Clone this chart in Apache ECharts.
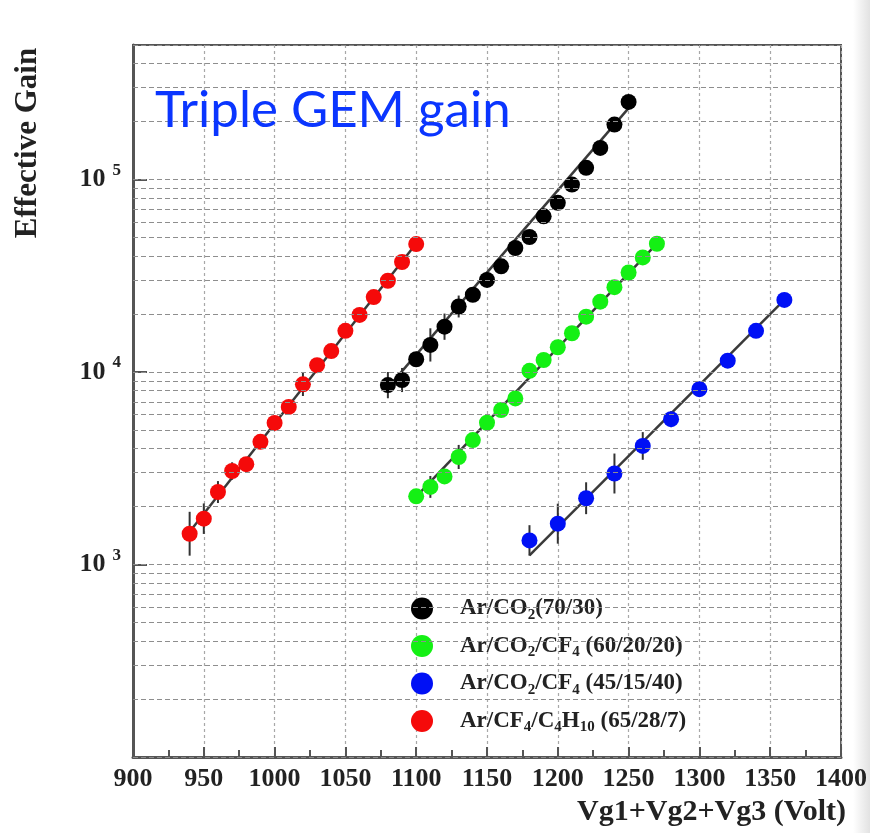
<!DOCTYPE html>
<html>
<head>
<meta charset="utf-8">
<script src="https://cdn.jsdelivr.net/npm/echarts@6/dist/echarts.min.js"></script>
<style>
  html, body { margin: 0; padding: 0; background: #fff; }
  #chart { width: 870px; height: 833px; }
</style>
</head>
<body>
<div id="chart"></div>
<script>
// voltage (x) and effective gain (y)
var redX   = [940, 950, 960, 970, 980, 990, 1000, 1010, 1020, 1030, 1040, 1050, 1060, 1070, 1080, 1090, 1100];
var redY   = [1445, 1730, 2380, 3060, 3320, 4340, 5440, 6590, 8630, 10860, 12850, 16370, 19800, 24500, 29800, 37300, 46200];
var redErr = [0.30, 0.20, 0.14, 0.11, 0.08, 0.06, 0.06, 0.06, 0.15, 0.06, 0.06, 0.05, 0.05, 0.05, 0.05, 0.05, 0.05];

var blackX   = [1080, 1090, 1100, 1110, 1120, 1130, 1140, 1150, 1160, 1170, 1180, 1190, 1200, 1210, 1220, 1230, 1240, 1250];
var blackY   = [8550, 9090, 11650, 13830, 17200, 21900, 25200, 30100, 35400, 44100, 50300, 64400, 75700, 94200, 115000, 146000, 193000, 253000];
var blackErr = [0.17, 0.155, 0.06, 0.22, 0.17, 0.14, 0.06, 0.06, 0.06, 0.06, 0.06, 0.06, 0.06, 0.06, 0.06, 0.06, 0.06, 0.06];

var greenX   = [1100, 1110, 1120, 1130, 1140, 1150, 1160, 1170, 1180, 1190, 1200, 1210, 1220, 1230, 1240, 1250, 1260, 1270];
var greenY   = [2260, 2530, 2870, 3620, 4430, 5450, 6340, 7290, 10150, 11550, 13450, 15900, 19400, 23200, 27600, 32900, 39400, 46400];
var greenErr = [0.06, 0.14, 0.07, 0.155, 0.08, 0.06, 0.06, 0.06, 0.09, 0.06, 0.06, 0.06, 0.06, 0.06, 0.06, 0.06, 0.06, 0.06];

var blueX   = [1180, 1200, 1220, 1240, 1260, 1280, 1300, 1320, 1340, 1360];
var blueY   = [1334, 1630, 2210, 2970, 4130, 5690, 8150, 11450, 16370, 23700];
var blueErr = [0.20, 0.27, 0.21, 0.27, 0.18, 0.10, 0.06, 0.06, 0.06, 0.06];

// exponential fits (straight on log scale): end points
var redFitX   = [940, 1100];   var redFitY   = [1480, 46500];
var blackFitX = [1080, 1250];  var blackFitY = [8300, 235000];
var greenFitX = [1100, 1270];  var greenFitY = [2250, 46400];
var blueFitX  = [1180, 1360];  var blueFitY  = [1115, 23700];

var gasNames = ['Ar/CO2 (70/30)', 'Ar/CO2/CF4 (60/20/20)', 'Ar/CO2/CF4 (45/15/40)', 'Ar/CF4/C4H10 (65/28/7)'];
var gasLabels = [
    'Ar/CO{s|2}(70/30)',
    'Ar/CO{s|2}/CF{s|4} (60/20/20)',
    'Ar/CO{s|2}/CF{s|4} (45/15/40)',
    'Ar/CF{s|4}/C{s|4}H{s|10} (65/28/7)'
];
var gasColors = ['#000000', '#14f014', '#0010f5', '#f50a0a'];

var xTicks = [900, 950, 1000, 1050, 1100, 1150, 1200, 1250, 1300, 1350, 1400];

var serif = '"Liberation Serif", "DejaVu Serif", serif';

function pairs(xs, ys) {
    var out = [];
    for (var i = 0; i < xs.length; i++) out.push([xs[i], ys[i]]);
    return out;
}

function errData(xs, ys, es) {
    var out = [];
    for (var i = 0; i < xs.length; i++) {
        out.push([xs[i], ys[i] / (1 + es[i]), ys[i] * (1 + es[i])]);
    }
    return out;
}

// horizontal log grid lines: 1..9 x each decade
var gridVals = [];
[100, 1000, 10000, 100000].forEach(function (d) {
    for (var k = 1; k <= 9; k++) {
        if (d * k <= 500000) gridVals.push(d * k);
    }
});

function errorSeries(xs, ys, es) {
    return {
        type: 'custom',
        silent: true,
        z: 3,
        data: errData(xs, ys, es),
        renderItem: function (params, api) {
            var lo = api.coord([api.value(0), api.value(1)]);
            var hi = api.coord([api.value(0), api.value(2)]);
            return {
                type: 'line',
                shape: { x1: lo[0], y1: lo[1], x2: hi[0], y2: hi[1] },
                style: { stroke: '#333', lineWidth: 2 }
            };
        }
    };
}

function fitSeries(xs, ys) {
    return {
        type: 'line',
        silent: true,
        z: 2,
        symbol: 'none',
        data: pairs(xs, ys),
        lineStyle: { color: '#3a3a3a', width: 2.5 }
    };
}

function pointSeries(name, xs, ys, color) {
    return {
        name: name,
        type: 'scatter',
        z: 4,
        symbol: 'circle',
        symbolSize: 16,
        data: pairs(xs, ys),
        itemStyle: { color: color, opacity: 1 }
    };
}

const myChart = echarts.init(document.getElementById('chart'));

var option = {
    animation: false,
    backgroundColor: '#ffffff',
    title: {
        text: 'Triple GEM gain',
        left: 150,
        top: 80,
        textStyle: {
            color: '#0a35ff',
            fontSize: 51,
            fontWeight: 'normal',
            fontFamily: 'Lato, "Open Sans", sans-serif'
        }
    },
    grid: {
        left: 133,
        right: 27,
        top: 45,
        bottom: 76,
        show: true,
        borderColor: '#555',
        borderWidth: 2
    },
    legend: {
        data: gasNames,
        orient: 'vertical',
        left: 406,
        top: 592,
        itemWidth: 22,
        itemHeight: 22,
        itemGap: 12,
        icon: 'circle',
        formatter: function (name) {
            return gasLabels[gasNames.indexOf(name)];
        },
        textStyle: {
            fontFamily: serif,
            fontWeight: 'bold',
            fontSize: 23,
            color: '#222',
            padding: [0, 0, 0, 22],
            rich: {
                s: {
                    fontFamily: serif,
                    fontWeight: 'bold',
                    fontSize: 15,
                    color: '#222',
                    padding: [13, 0, 0, 0]
                }
            }
        }
    },
    graphic: [
        {
            type: 'rect',
            shape: { x: 853, y: 0, width: 17, height: 833 },
            style: {
                fill: {
                    type: 'linear', x: 0, y: 0, x2: 1, y2: 0,
                    colorStops: [
                        { offset: 0, color: '#ffffff' },
                        { offset: 1, color: '#e2e2e2' }
                    ]
                }
            },
            silent: true
        },
        {
            type: 'text',
            x: 28,
            y: 143,
            rotation: Math.PI / 2,
            style: {
                text: 'Effective Gain',
                fontFamily: serif,
                fontWeight: 'bold',
                fontSize: 31,
                fill: '#222',
                textAlign: 'center',
                textVerticalAlign: 'middle'
            }
        },
        {
            type: 'text',
            x: 846,
            y: 812,
            style: {
                text: 'Vg1+Vg2+Vg3 (Volt)',
                fontFamily: serif,
                fontWeight: 'bold',
                fontSize: 30,
                fill: '#222',
                textAlign: 'right',
                textVerticalAlign: 'middle'
            }
        }
    ],
    xAxis: {
        type: 'value',
        min: xTicks[0],
        max: xTicks[xTicks.length - 1],
        interval: 50,
        axisLine: { lineStyle: { color: '#555', width: 3 } },
        axisTick: { inside: true, length: 10, lineStyle: { color: '#555', width: 2 } },
        minorTick: { show: true, splitNumber: 2, length: 7, lineStyle: { color: '#555', width: 2 } },
        splitLine: { show: true, lineStyle: { color: '#a8a8a8', type: [3, 3], width: 1.2 } },
        axisLabel: {
            margin: 9,
            formatter: function (v) { return String(v); },
            fontFamily: serif,
            fontWeight: 'bold',
            fontSize: 26,
            color: '#222'
        }
    },
    yAxis: {
        type: 'log',
        logBase: 10,
        min: 100,
        max: 500000,
        axisLine: { lineStyle: { color: '#555', width: 3 } },
        axisTick: { inside: true, length: 14, lineStyle: { color: '#555', width: 2 } },
        splitLine: { show: false },
        axisLabel: {
            margin: 12,
            formatter: function (v) {
                var e = Math.round(Math.log10(v));
                if (Math.abs(Math.log10(v) - e) > 1e-6 || e < 3 || e > 5) return '';
                return '{a|10}{s|' + e + '}';
            },
            rich: {
                a: { fontFamily: serif, fontWeight: 'bold', fontSize: 26, color: '#222' },
                s: { fontFamily: serif, fontWeight: 'bold', fontSize: 17, color: '#222',
                     padding: [0, 0, 18, 7] }
            }
        }
    },
    series: [
        {
            type: 'line',
            silent: true,
            z: 1,
            data: [],
            markLine: {
                silent: true,
                symbol: 'none',
                label: { show: false },
                lineStyle: { color: '#8e8e8e', type: [5, 3], width: 1.2 },
                data: gridVals.map(function (v) { return { yAxis: v }; })
            }
        },
        fitSeries(redFitX, redFitY),
        fitSeries(blackFitX, blackFitY),
        fitSeries(greenFitX, greenFitY),
        fitSeries(blueFitX, blueFitY),
        errorSeries(redX, redY, redErr),
        errorSeries(blackX, blackY, blackErr),
        errorSeries(greenX, greenY, greenErr),
        errorSeries(blueX, blueY, blueErr),
        pointSeries(gasNames[0], blackX, blackY, gasColors[0]),
        pointSeries(gasNames[1], greenX, greenY, gasColors[1]),
        pointSeries(gasNames[2], blueX, blueY, gasColors[2]),
        pointSeries(gasNames[3], redX, redY, gasColors[3])
    ]
};

if (option && typeof option === 'object') {
    myChart.setOption(option, true);
}
</script>
</body>
</html>
